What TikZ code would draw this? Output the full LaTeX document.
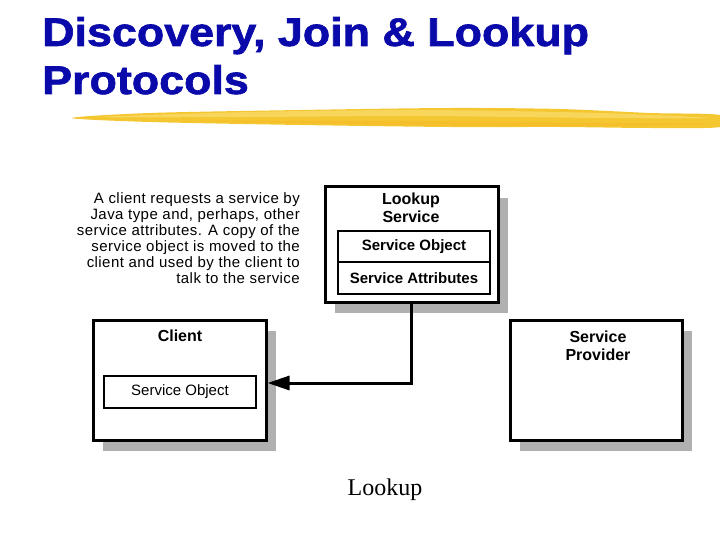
\documentclass[tikz,border=0pt]{standalone}
\usepackage{fontspec}
\setmainfont{Liberation Sans}
\newfontfamily\serifface{Liberation Serif}
\newfontfamily\titleface[FakeBold=1.5]{Liberation Sans Bold}
\usetikzlibrary{shadows,arrows.meta}
\definecolor{titleblue}{RGB}{10,10,170}
\definecolor{shadowgray}{RGB}{176,176,176}
\definecolor{brushgold}{RGB}{244,198,48}
\definecolor{brushlight}{RGB}{250,220,110}
\begin{document}
\begin{tikzpicture}[x=1pt,y=-1pt,line cap=butt,line join=miter,
  box/.style={draw,line width=3pt,fill=white,inner sep=0pt,
    drop shadow={shadow xshift=10pt,shadow yshift=-11pt,opacity=1,fill=shadowgray}},
  part/.style={draw,line width=2.5pt,fill=white,inner sep=0pt,minimum width=152pt,
    font=\fontsize{15}{16}\selectfont\bfseries},
  head/.style={inner sep=0pt,align=center,font=\fontsize{16}{17.5}\selectfont\bfseries},
  title/.style={anchor=base west,inner sep=0pt,xscale=1.12,text=titleblue,
    font=\titleface\fontsize{40}{42}\selectfont},
  conn/.style={line width=3pt,-{Triangle[length=22pt,width=14pt]}}]
  \useasboundingbox (0,0) rectangle (720,540);
  % title
  \node[title] (title1) at (42,46) {Discovery, Join \& Lookup};
  \node[title] (title2) at (42,94) {Protocols};
  % brush stroke
  \fill[brushgold] plot[smooth cycle] coordinates {(72,118) (150,113) (300,110) (450,108)
    (560,109) (650,113) (720,115) (720,127) (650,128) (560,127) (450,127) (300,125) (150,122)};
  \fill[brushlight,opacity=0.7] plot[smooth cycle] coordinates {(100,117) (250,112) (420,110)
    (600,113) (710,118) (600,118) (420,116) (250,117)};
  \fill[brushgold!85!orange,opacity=0.6] plot[smooth cycle] coordinates {(200,121) (400,121)
    (600,123) (715,124) (600,126) (400,125)};
  % boxes
  \node[box,minimum width=173pt,minimum height=115pt] (lookup) at (411.5,244.5) {};
  \node[box,minimum width=173pt,minimum height=120pt] (client) at (179.5,380) {};
  \node[box,minimum width=172pt,minimum height=120pt] (provider) at (596,380) {};
  \node[part,minimum height=31pt] (lkobj) at (414,246.5) {Service Object};
  \node[part,minimum height=32pt] (lkattr) at (414,278) {Service Attributes};
  \node[part,minimum height=32pt,font=\fontsize{15}{16}\selectfont] (clobj) at (180,392) {Service Object};
  \node[head] (lkname) at (411,208) {Lookup\\Service};
  \node[head] (clname) at (180,336) {Client};
  \node[head] (prname) at (598,346) {Service\\Provider};
  % note
  \node[anchor=north east,inner sep=0pt,align=right,
    font=\addfontfeatures{LetterSpace=3}\fontsize{15}{16}\selectfont]
    (note) at (300,192) {A client requests a service by\\Java type and, perhaps, other\\
    service attributes. A copy of the\\service object is moved to the\\
    client and used by the client to\\talk to the service};
  % connector
  \draw[conn] (lookup.south) |- ([yshift=-3pt]client.east);
  \node[anchor=base,inner sep=0pt,font=\serifface\fontsize{24}{26}\selectfont] (caption) at (385,495) {Lookup};
\end{tikzpicture}
\end{document}
